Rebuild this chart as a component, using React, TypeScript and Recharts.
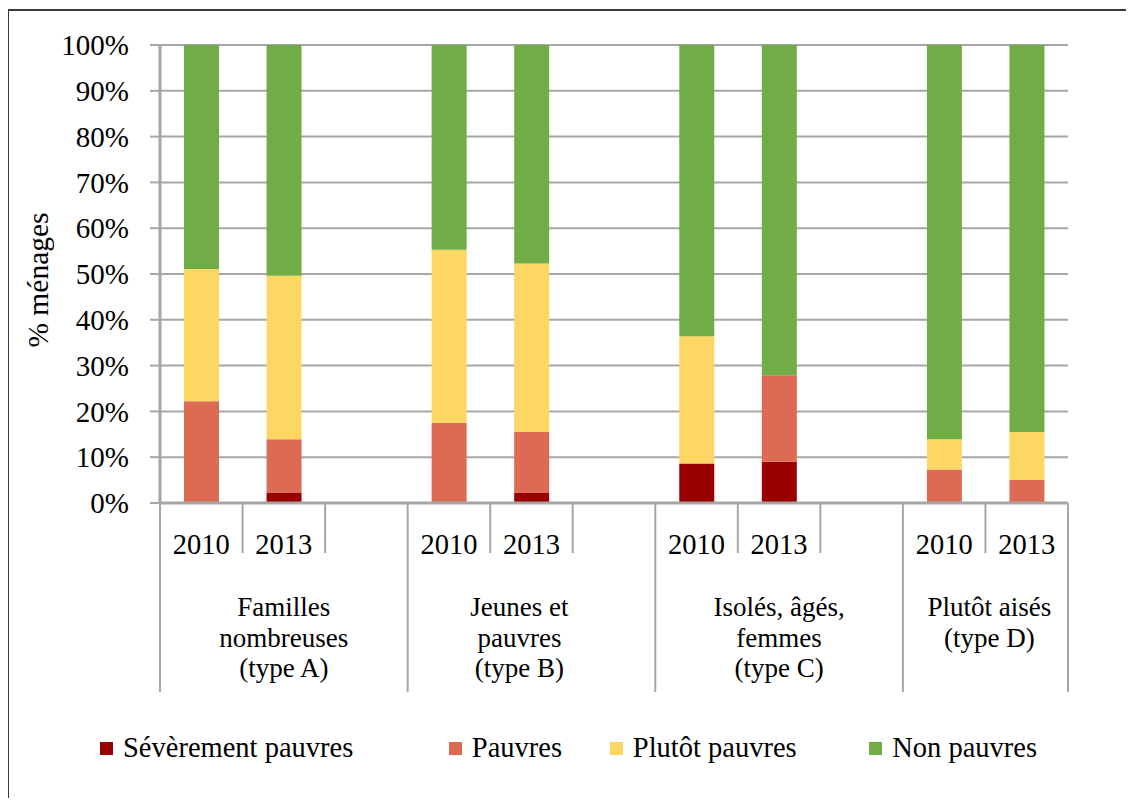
import { BarChart, Bar, XAxis, YAxis, CartesianGrid, Legend } from "recharts";

// slots on the category axis (empty = spacer column between groups)
const years = ["2010", "2013", "", "2010", "2013", "", "2010", "2013", "", "2010", "2013"];
const groupLabels = [
  ["Familles", "nombreuses", "(type A)"],
  ["Jeunes et", "pauvres", "(type B)"],
  ["Isolés, âgés,", "femmes", "(type C)"],
  ["Plutôt aisés", "(type D)"],
];
const groupSlots = [3, 3, 3, 2];

// % of households, bottom to top
const severes = [0, 2.3, null, 0, 2.3, null, 8.6, 9.0, null, 0, 0];
const pauvres = [22.2, 11.6, null, 17.5, 13.2, null, 0, 18.9, null, 7.3, 5.0];
const plutot = [28.9, 35.7, null, 37.8, 36.8, null, 27.8, 0, null, 6.6, 10.5];
const nonPauvres = [48.9, 50.4, null, 44.7, 47.7, null, 63.6, 72.1, null, 86.1, 84.5];

const yTicks = [0, 10, 20, 30, 40, 50, 60, 70, 80, 90, 100];

const series = [
  { key: "severes", name: "Sévèrement pauvres", color: "#9A0000" },
  { key: "pauvres", name: "Pauvres", color: "#DD6A52" },
  { key: "plutot", name: "Plutôt pauvres", color: "#FDD663" },
  { key: "non", name: "Non pauvres", color: "#71AD47" },
];

const data = years.map((year, i) => ({
  slot: i,
  year,
  severes: severes[i],
  pauvres: pauvres[i],
  plutot: plutot[i],
  non: nonPauvres[i],
}));

const W = 1118;
const H = 790;
const M = { top: 37, right: 58, bottom: 30, left: 0 };
const Y_AXIS_W = 152;
const AXIS_Y = 495;
const BAND = (W - M.right - Y_AXIS_W) / years.length;
const FONT = "Liberation Serif, Times New Roman, serif";
const GRID = "#A6A6A6";
// small horizontal nudges of the group labels, as in the original
const GROUP_DX = [0, -12, 0, 4];

const groupStarts = groupSlots.map((_, g) => groupSlots.slice(0, g).reduce((a, b) => a + b, 0));

function CategoryTick({ x, payload }: any) {
  const i = payload.index;
  const left = x - BAND / 2;
  const g = groupStarts.indexOf(i);
  return (
    <g>
      <line x1={left} x2={left} y1={AXIS_Y} y2={AXIS_Y + (g >= 0 ? 189 : 50)} stroke={GRID} strokeWidth={2} />
      {i === years.length - 1 && (
        <line x1={x + BAND / 2} x2={x + BAND / 2} y1={AXIS_Y} y2={AXIS_Y + 189} stroke={GRID} strokeWidth={2} />
      )}
      <text x={x} y={546} textAnchor="middle" fontSize={28.5} fontFamily={FONT} fill="#000">
        {years[i]}
      </text>
      {g >= 0 &&
        groupLabels[g].map((line, k) => (
          <text
            key={k}
            x={left + (groupSlots[g] * BAND) / 2 + GROUP_DX[g]}
            y={608 + k * 30.5}
            textAnchor="middle"
            fontSize={27}
            fontFamily={FONT}
            fill="#000"
          >
            {line}
          </text>
        ))}
    </g>
  );
}

function LegendRow() {
  const widths = [351, 162, 261, 200];
  return (
    <div style={{ display: "flex", alignItems: "center", height: 40, paddingLeft: 92, fontFamily: FONT, fontSize: 28.5 }}>
      {series.map((s, i) => (
        <div key={s.key} style={{ display: "flex", alignItems: "center", width: widths[i] }}>
          <span style={{ width: 13, height: 13, background: s.color, marginRight: 10, display: "inline-block" }} />
          <span style={{ color: "#000" }}>{s.name}</span>
        </div>
      ))}
    </div>
  );
}

export default function App() {
  return (
    <div style={{ position: "relative", width: W, height: H }}>
      <div
        style={{
          position: "absolute",
          left: -1,
          top: 1,
          width: 1119,
          height: H - 2,
          borderTop: "2px solid #3a3a3a",
          borderLeft: "2px solid #3a3a3a",
          pointerEvents: "none",
        }}
      />
      <BarChart width={W} height={H} data={data} margin={M} barSize={35}>
        <CartesianGrid horizontal vertical={false} stroke={GRID} strokeWidth={2} />
        <XAxis
          dataKey="slot"
          type="category"
          interval={0}
          height={225}
          tickLine={false}
          axisLine={{ stroke: GRID, strokeWidth: 3 }}
          tick={<CategoryTick />}
        />
        <YAxis
          width={Y_AXIS_W}
          domain={[0, 100]}
          ticks={yTicks}
          interval={0}
          tickFormatter={(v) => `${v}%`}
          tickSize={10}
          tickMargin={21}
          tickLine={{ stroke: GRID, strokeWidth: 2 }}
          axisLine={{ stroke: GRID, strokeWidth: 3 }}
          tick={{ fontSize: 29, fontFamily: FONT, fill: "#000" }}
        />
        <text
          x={30}
          y={272}
          transform="rotate(-90 30 272)"
          textAnchor="middle"
          dominantBaseline="central"
          fontSize={29.5}
          fontFamily={FONT}
          fill="#000"
        >
          % ménages
        </text>
        {series.map((s) => (
          <Bar key={s.key} dataKey={s.key} name={s.name} stackId="a" fill={s.color} isAnimationActive={false} />
        ))}
        <Legend verticalAlign="bottom" height={40} content={<LegendRow />} />
      </BarChart>
    </div>
  );
}
